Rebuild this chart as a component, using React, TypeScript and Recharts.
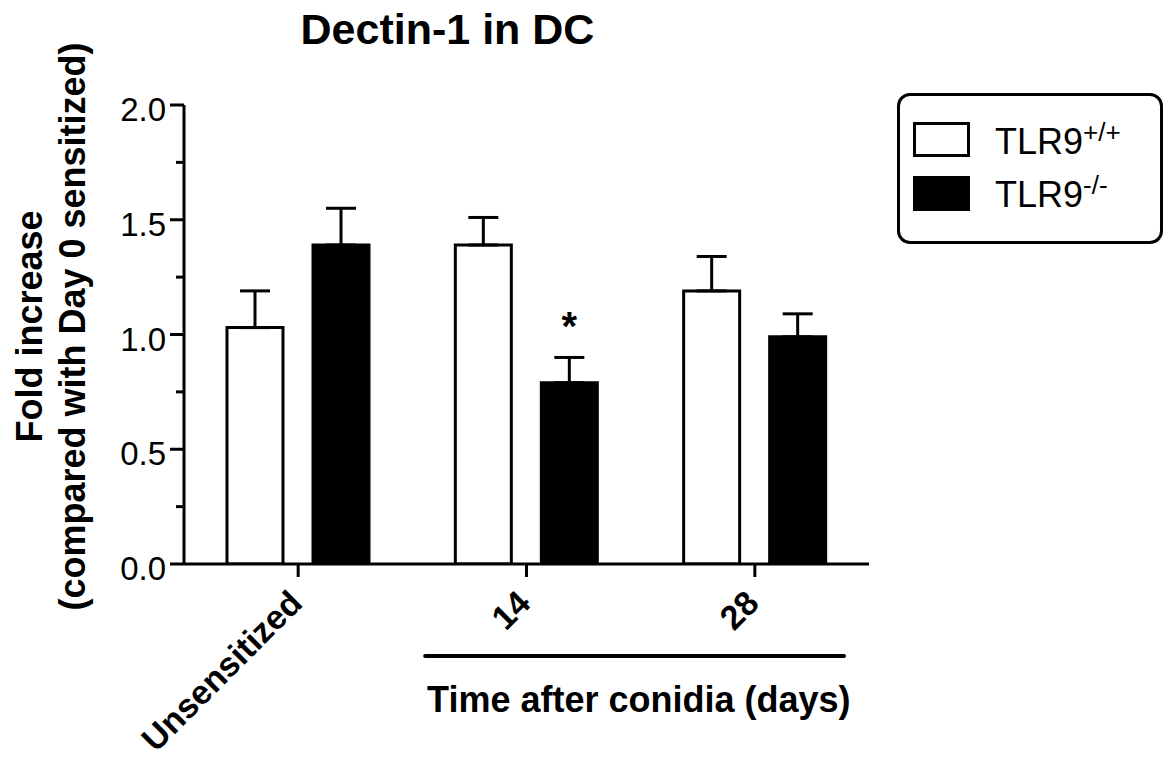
import { BarChart, Bar, XAxis, YAxis, ErrorBar, Legend, LabelList } from 'recharts';

// values
const CATEGORIES = ['Unsensitized', '14', '28'];
const WT_MEAN = [1.03, 1.39, 1.19];
const WT_SEM = [0.16, 0.12, 0.15];
const KO_MEAN = [1.39, 0.79, 0.99];
const KO_SEM = [0.16, 0.11, 0.1];
const SIGNIFICANCE = ['', '*', ''];
const Y_TICKS = [0, 0.25, 0.5, 0.75, 1, 1.25, 1.5, 1.75, 2];

const SERIES = [
  { key: 'wt', label: 'TLR9', sup: '+/+', fill: '#ffffff' },
  { key: 'ko', label: 'TLR9', sup: '-/-', fill: '#000000' },
];

const FONT = '"Liberation Sans", Arial, Helvetica, sans-serif';

const data = CATEGORIES.map((name, i) => ({
  name,
  wt: WT_MEAN[i],
  wtErr: [0, WT_SEM[i]],
  ko: KO_MEAN[i],
  koErr: [0, KO_SEM[i]],
  sig: SIGNIFICANCE[i],
}));

function YTick({ x, y, payload }: any) {
  const v = payload.value as number;
  const major = Math.abs(v * 2 - Math.round(v * 2)) < 1e-6;
  return (
    <g>
      <line x1={x - (major ? 14 : 8)} y1={y} x2={x} y2={y} stroke="#000" strokeWidth={3} />
      {major && (
        <text x={x - 18} y={y + 16} textAnchor="end" fontSize={33} fontFamily={FONT} fill="#000">
          {v.toFixed(1)}
        </text>
      )}
    </g>
  );
}

function XTick({ x, y, payload }: any) {
  return (
    <g transform={`translate(${x + 6},${y + 28}) rotate(-45)`}>
      <text textAnchor="end" fontSize={34} fontWeight="bold" fontFamily={FONT} fill="#000">
        {payload.value}
      </text>
    </g>
  );
}

function YLabel({ viewBox }: any) {
  const cy = viewBox.y + viewBox.height / 2 - 8;
  return (
    <g fontFamily={FONT} fontWeight="bold" fontSize={36} fill="#000">
      <text x={42} y={cy} textAnchor="middle" transform={`rotate(-90, 42, ${cy})`}>
        Fold increase
      </text>
      <text x={85} y={cy} textAnchor="middle" transform={`rotate(-90, 85, ${cy})`}>
        (compared with Day 0 sensitized)
      </text>
    </g>
  );
}

function XLabel({ viewBox }: any) {
  const { x, y, width } = viewBox;
  return (
    <g>
      <line
        x1={x + width * 0.352}
        y1={y + 92}
        x2={x + width * 0.9635}
        y2={y + 92}
        stroke="#000"
        strokeWidth={4}
        strokeLinecap="round"
      />
      <text
        x={x + width * 0.664}
        y={y + 148}
        textAnchor="middle"
        fontSize={36}
        fontWeight="bold"
        fontFamily={FONT}
        fill="#000"
      >
        Time after conidia (days)
      </text>
    </g>
  );
}

function StarLabel({ x, y, width, value }: any) {
  if (!value) return null;
  return (
    <text x={x + width / 2} y={y - 43} textAnchor="middle" fontSize={40} fontWeight="bold" fontFamily={FONT} fill="#000">
      {value}
    </text>
  );
}

function LegendBox() {
  return (
    <div
      style={{
        position: 'relative',
        boxSizing: 'border-box',
        width: 266,
        height: 151,
        border: '3px solid #000',
        borderRadius: 13,
        background: '#fff',
        fontFamily: FONT,
        color: '#000',
      }}
    >
      {SERIES.map((s, i) => (
        <div key={s.key}>
          <div
            style={{
              position: 'absolute',
              left: 13,
              top: 26 + i * 54,
              width: 57,
              height: 35,
              boxSizing: 'border-box',
              border: '3px solid #000',
              background: s.fill,
            }}
          />
          <div
            style={{
              position: 'absolute',
              left: 95,
              top: 28 + i * 53,
              fontSize: 36,
              lineHeight: '36px',
              whiteSpace: 'nowrap',
            }}
          >
            {s.label}
            <span style={{ fontSize: 26, position: 'relative', top: -13 }}>{s.sup}</span>
          </div>
        </div>
      ))}
    </div>
  );
}

export default function App() {
  return (
    <div style={{ position: 'absolute', left: 0, top: 0, width: 1163, height: 760, background: '#fff' }}>
      <div
        style={{
          position: 'absolute',
          left: 0,
          top: 8,
          width: 895,
          textAlign: 'center',
          fontFamily: FONT,
          fontWeight: 'bold',
          fontSize: 43,
          lineHeight: '43px',
          color: '#000',
        }}
      >
        Dectin-1 in DC
      </div>
      <BarChart
        width={1163}
        height={760}
        data={data}
        margin={{ top: 105, right: 294, bottom: 0, left: 0 }}
        barSize={56}
        barGap={30}
      >
        <XAxis
          dataKey="name"
          interval={0}
          height={196}
          tickSize={13}
          tickMargin={0}
          axisLine={{ stroke: '#000', strokeWidth: 3 }}
          tickLine={{ stroke: '#000', strokeWidth: 3 }}
          tick={<XTick />}
          label={<XLabel />}
        />
        <YAxis
          domain={[0, 2]}
          ticks={Y_TICKS}
          width={184}
          tickSize={0}
          tickMargin={0}
          tickLine={false}
          axisLine={{ stroke: '#000', strokeWidth: 3 }}
          tick={<YTick />}
          label={<YLabel />}
          allowDataOverflow
        />
        <Legend
          layout="horizontal"
          verticalAlign="middle"
          align="center"
          content={<LegendBox />}
          wrapperStyle={{ left: 897, top: 93, width: 266, height: 151 }}
        />
        <Bar dataKey="wt" name="TLR9+/+" fill="#ffffff" stroke="#000" strokeWidth={3} isAnimationActive={false}>
          <ErrorBar dataKey="wtErr" width={15} stroke="#000" strokeWidth={3} direction="y" isAnimationActive={false} />
        </Bar>
        <Bar dataKey="ko" name="TLR9-/-" fill="#000000" stroke="#000" strokeWidth={3} isAnimationActive={false}>
          <ErrorBar dataKey="koErr" width={15} stroke="#000" strokeWidth={3} direction="y" isAnimationActive={false} />
          <LabelList dataKey="sig" content={<StarLabel />} />
        </Bar>
      </BarChart>
    </div>
  );
}
